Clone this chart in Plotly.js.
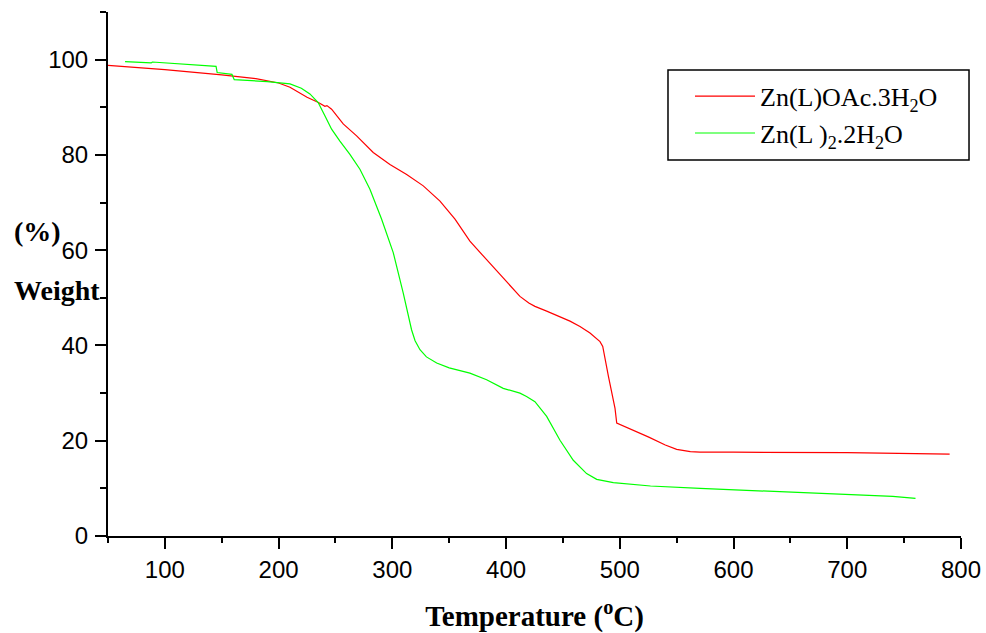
<!DOCTYPE html>
<html>
<head>
<meta charset="utf-8">
<script src="https://cdn.plot.ly/plotly-3.0.1.min.js"></script>
<style>html,body{margin:0;padding:0;background:#fff;}#chart{width:986px;height:633px;}</style>
</head>
<body>
<div id="chart"></div>
<script>
// Zn(L)OAc.3H2O (red)
const redT = [50, 100, 150, 180, 200, 210, 225, 235, 240.7, 242.5, 246.6, 256.8, 268.6, 283.2, 297.9, 312.6, 327.2, 341.9, 355.1, 368.2, 382.9, 397.5, 412.2, 420, 425.4, 435.7, 456.2, 465, 473.8, 482.6, 485, 490, 495.8, 497.3, 510, 525, 540, 550, 562, 570.5, 600, 700, 790];
const redW = [98.8, 97.9, 96.8, 96.0, 95.1, 94.2, 92.1, 91.0, 90.2, 90.35, 89.6, 86.5, 84.0, 80.5, 78.0, 75.9, 73.5, 70.3, 66.5, 61.9, 58.0, 54.2, 50.3, 48.9, 48.2, 47.2, 45.1, 44.0, 42.6, 40.8, 39.8, 33.5, 26.8, 23.7, 22.4, 20.8, 19.1, 18.2, 17.7, 17.6, 17.6, 17.5, 17.2];
// Zn(L)2.2H2O (green)
const greenT = [65, 88, 89, 145, 146, 159, 161, 190, 210, 220, 227.5, 234.8, 240.7, 246.6, 253.9, 262.7, 271.5, 280.3, 290.6, 300.8, 309.6, 316.9, 320, 324.3, 330, 339, 350, 368.2, 382.9, 397.5, 412.2, 418, 425.4, 435.7, 447.4, 459.1, 470.8, 479.7, 494.3, 527, 570.5, 600, 650, 700, 740, 760];
const greenW = [99.6, 99.3, 99.5, 98.6, 97.3, 96.9, 95.8, 95.4, 94.9, 94.0, 92.8, 91.0, 88.2, 85.4, 82.9, 80.1, 77.0, 72.8, 66.5, 59.5, 51.0, 43.3, 41.0, 39.1, 37.6, 36.3, 35.3, 34.2, 32.8, 31.0, 30.0, 29.3, 28.2, 25.1, 20.1, 15.9, 13.1, 11.9, 11.2, 10.5, 10.0, 9.7, 9.2, 8.7, 8.3, 7.9];
const seriesNames = ['Zn(L)OAc.3H<sub>2</sub>O', 'Zn(L )<sub>2</sub>.2H<sub>2</sub>O'];
const xTicks = [100, 200, 300, 400, 500, 600, 700, 800];
const yTicks = [0, 20, 40, 60, 80, 100];

const traces = [
  {x: redT, y: redW, type: 'scatter', mode: 'lines', name: seriesNames[0], line: {color: '#ff0000', width: 1.2}},
  {x: greenT, y: greenW, type: 'scatter', mode: 'lines', name: seriesNames[1], line: {color: '#00ff00', width: 1.2}}
];

const serif = 'Liberation Serif, Times New Roman, serif';
const axisCommon = {
  showgrid: false, zeroline: false, showline: true, linecolor: '#000', linewidth: 2,
  ticks: 'outside', ticklen: 11, tickwidth: 2, tickcolor: '#000',
  tickfont: {family: 'Liberation Sans, Arial, sans-serif', size: 24, color: '#000'}
};

const layout = {
  width: 986, height: 633,
  margin: {l: 108, r: 25, t: 12, b: 97},
  paper_bgcolor: '#fff', plot_bgcolor: '#fff',
  showlegend: true,
  legend: {
    x: 0.6823, y: 0.884, xanchor: 'left', yanchor: 'top',
    bgcolor: 'rgba(0,0,0,0)', borderwidth: 0,
    font: {family: serif, size: 26, color: '#000'},
    itemwidth: 60, tracegroupgap: 0
  },
  shapes: [
    {type: 'rect', xref: 'paper', yref: 'paper', x0: 0.6565, x1: 1.0094, y0: 0.7176, y1: 0.8893,
     line: {color: '#000', width: 1.5}, fillcolor: '#fff', layer: 'above'}
  ],
  xaxis: Object.assign({}, axisCommon, {
    range: [50, 800], tickvals: xTicks, ticktext: xTicks.map(String),
    minor: {dtick: 50, tick0: 0, ticks: 'outside', ticklen: 5, tickwidth: 2, tickcolor: '#000', showgrid: false},
    title: {text: 'Temperature (<sup>o</sup>C)', standoff: 29,
      font: {family: serif, size: 29, color: '#000', weight: 'bold'}}
  }),
  yaxis: Object.assign({}, axisCommon, {
    range: [0, 110], tickvals: yTicks, ticktext: yTicks.map(String), ticklabelstandoff: 2,
    minor: {dtick: 10, tick0: 0, ticks: 'outside', ticklen: 6, tickwidth: 2, tickcolor: '#000', showgrid: false}
  }),
  annotations: [
    {text: '<b>(%)</b>', xref: 'paper', yref: 'y', x: -0.1125, y: 63.9, xanchor: 'left', yanchor: 'middle', showarrow: false,
     font: {family: serif, size: 28, color: '#000'}},
    {text: '<b>Weight</b>', xref: 'paper', yref: 'y', x: -0.1125, y: 51.5, xanchor: 'left', yanchor: 'middle', showarrow: false,
     font: {family: serif, size: 28, color: '#000'}}
  ]
};

Plotly.newPlot('chart', traces, layout, {displayModeBar: false, staticPlot: true});
</script>
</body>
</html>
